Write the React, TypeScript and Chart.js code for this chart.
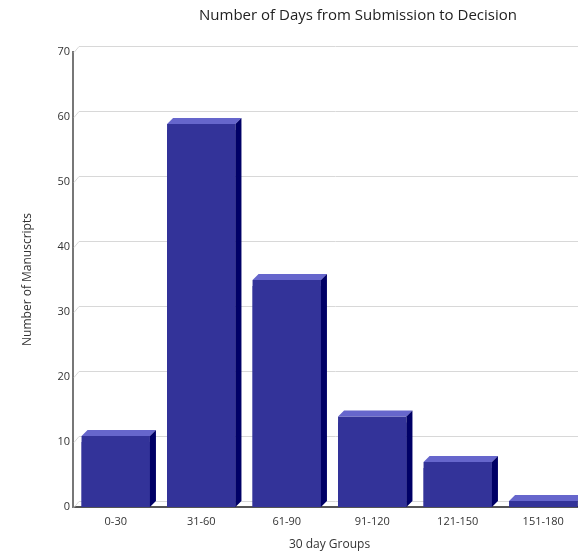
import React, { useEffect, useRef } from "react";
import { Chart, registerables } from "chart.js";

Chart.register(...registerables);

const categories = ["0-30", "31-60", "61-90", "91-120", "121-150", "151-180"];
const manuscripts = [10, 58, 34, 13, 6, 0];
const yMin = 0;
const yMax = 70;
const yStep = 10;

const titleText = "Number of Days from Submission to Decision";
const xTitle = "30 day Groups";
const yTitle = "Number of Manuscripts";

const FRONT = "#333399";
const TOP = "#6666cc";
const SIDE = "#000066";
const GRID = "#d8d8d8";
const DX = 6;
const DY = 6;

const threeD = {
  id: "threeD",
  beforeDatasetsDraw(chart: any) {
    const { ctx, chartArea } = chart;
    const ys = chart.scales.y;
    ctx.save();
    ctx.strokeStyle = GRID;
    ctx.lineWidth = 1;
    for (let v = yMin; v <= yMax; v += yStep) {
      const y = Math.round(ys.getPixelForValue(v)) + 0.5;
      ctx.beginPath();
      ctx.moveTo(chartArea.left + 1, y);
      ctx.lineTo(chartArea.left + DX, y - DY);
      ctx.lineTo(chartArea.right + DX, y - DY);
      ctx.stroke();
    }
    ctx.restore();
  },
  afterDatasetsDraw(chart: any) {
    const { ctx } = chart;
    const meta = chart.getDatasetMeta(0);
    ctx.save();
    meta.data.forEach((bar: any) => {
      const { x, y, base, width } = bar.getProps(["x", "y", "base", "width"], true);
      const l = x - width / 2;
      const r = x + width / 2;
      const t = y - DY;
      ctx.fillStyle = FRONT;
      ctx.fillRect(l, t, r - l, base - t);
      ctx.fillStyle = TOP;
      ctx.beginPath();
      ctx.moveTo(l, t);
      ctx.lineTo(l + DX, t - DY);
      ctx.lineTo(r + DX, t - DY);
      ctx.lineTo(r, t);
      ctx.closePath();
      ctx.fill();
      ctx.fillStyle = SIDE;
      ctx.beginPath();
      ctx.moveTo(r, t);
      ctx.lineTo(r + DX, t - DY);
      ctx.lineTo(r + DX, base - DY);
      ctx.lineTo(r, base);
      ctx.closePath();
      ctx.fill();
    });
    ctx.restore();
  },
};

export default function App() {
  const ref = useRef<HTMLCanvasElement>(null);
  useEffect(() => {
    if (!ref.current) return;
    const chart = new Chart(ref.current, {
      type: "bar",
      data: {
        labels: categories,
        datasets: [
          {
            label: yTitle,
            data: manuscripts,
            backgroundColor: FRONT,
            borderWidth: 0,
            barPercentage: 1,
            categoryPercentage: 0.8,
          },
        ],
      },
      options: {
        responsive: false,
        animation: false,
        devicePixelRatio: 1,
        layout: { padding: 0 },
        plugins: {
          legend: { display: false },
          tooltip: { enabled: false },
          title: {
            display: true,
            text: titleText,
            color: "#222",
            font: { family: "'Open Sans'", size: 15, weight: "normal", lineHeight: 1.2 },
            padding: { top: 7, bottom: 27 },
          },
        },
        scales: {
          x: {
            grid: { display: false, drawTicks: false },
            border: { display: true, color: "#555", width: 2 },
            ticks: {
              color: "#333",
              font: { family: "'Open Sans'", size: 11 },
              padding: 8,
              maxRotation: 0,
            },
            title: {
              display: true,
              text: xTitle,
              color: "#333",
              font: { family: "'Open Sans'", size: 12, lineHeight: 1.2 },
              padding: { top: 0, bottom: 0 },
            },
            afterFit: (s: any) => {
              s.height = 45;
            },
          },
          y: {
            min: yMin,
            max: yMax,
            grid: { display: false, drawTicks: false },
            border: { display: true, color: "#777", width: 2 },
            ticks: {
              stepSize: yStep,
              color: "#333",
              font: { family: "'Open Sans'", size: 11 },
              padding: 3,
            },
            title: {
              display: true,
              text: yTitle,
              color: "#333",
              font: { family: "'Open Sans'", size: 12, lineHeight: 1.2 },
              padding: { top: 20, bottom: 0 },
            },
            afterFit: (s: any) => {
              s.width = 73;
            },
          },
          yR: {
            position: "right",
            display: true,
            grid: { display: false, drawTicks: false },
            border: { display: false },
            ticks: { display: false },
            afterFit: (s: any) => {
              s.width = 130;
            },
          },
        },
      },
      plugins: [threeD],
    });
    return () => chart.destroy();
  }, []);
  return (
    <div style={{ position: "fixed", left: 0, top: 0, width: 716, height: 552, background: "#fff" }}>
      <canvas ref={ref} width={716} height={552} style={{ width: 716, height: 552, display: "block" }} />
    </div>
  );
}
